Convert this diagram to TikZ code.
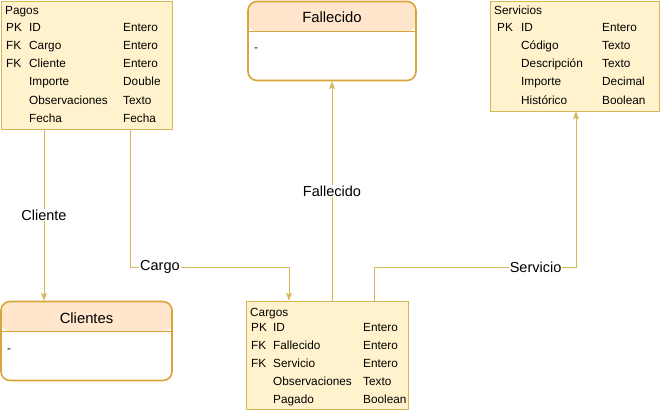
\documentclass[tikz,border=0pt]{standalone}
\usepackage{fontspec}
\setmainfont{Liberation Sans}
\usetikzlibrary{arrows.meta}
\definecolor{tablefill}{HTML}{FFF2CC}
\definecolor{tablestroke}{HTML}{D6B656}
\definecolor{headfill}{HTML}{FFE6CC}
\definecolor{headstroke}{HTML}{D9A43A}
\definecolor{linkcolor}{HTML}{D6B656}
\begin{document}
\begin{tikzpicture}[x=1pt,y=-1pt]
	% Define styles for the boxes, texts and links
	\tikzstyle{table} = [draw=tablestroke, fill=tablefill, line width=0.8pt, inner sep=0pt]
	\tikzstyle{entity} = [draw=headstroke, fill=white, line width=1.6pt, rounded corners=9pt, inner sep=0pt,
		minimum width=168pt, minimum height=79pt,
		path picture={\fill[headfill] (path picture bounding box.north west) rectangle ([yshift=-30pt]path picture bounding box.north east);
			\draw[headstroke, line width=1.6pt] ([yshift=-30pt]path picture bounding box.north west) -- ([yshift=-30pt]path picture bounding box.north east);}]
	\tikzstyle{cell} = [anchor=west, inner sep=0pt, text height=8.5pt, text depth=2.5pt, yshift=-2pt, font=\fontsize{11.8}{13}\selectfont]
	\tikzstyle{title} = [inner sep=0pt, font=\fontsize{14.8}{16}\selectfont]
	\tikzstyle{edge} = [draw=linkcolor, line width=0.8pt, -{Stealth[length=8pt, width=6pt, inset=2pt]}]
	\tikzstyle{edgelabel} = [fill=white, inner sep=1pt, font=\fontsize{14.5}{16}\selectfont]

	\useasboundingbox (0,0) rectangle (662,412);

	% Tables
	\node[table, minimum width=171pt, minimum height=128pt] (pagos) at (86.5,65) {};
	\node[table, minimum width=169pt, minimum height=110pt] (servicios) at (574.5,56) {};
	\node[table, minimum width=162pt, minimum height=108pt] (cargos) at (327,355) {};

	% Entities
	\node[entity] (fallecido) at (332,41) {};
	\node[entity, minimum width=171pt] (clientes) at (86.5,341) {};

	% Table texts
	\node[cell] (pagostitle) at (5,10) {Pagos};
	\foreach \pk/\name/\type [count=\i] in {PK/ID/Entero, FK/Cargo/Entero, FK/Cliente/Entero,
		/Importe/Double, /Observaciones/Texto, /Fecha/Fecha} {
		\node[cell] (pagospk\i) at (6,{27+18*(\i-1)}) {\pk};
		\node[cell] (pagosname\i) at (29,{27+18*(\i-1)}) {\name};
		\node[cell] (pagostype\i) at (123,{27+18*(\i-1)}) {\type};
	}

	\node[cell] (serviciostitle) at (494,10) {Servicios};
	\foreach \pk/\name/\type [count=\i] in {PK/ID/Entero, /Código/Texto, /Descripción/Texto,
		/Importe/Decimal, /Histórico/Boolean} {
		\node[cell] (serviciospk\i) at (497,{27+18*(\i-1)}) {\pk};
		\node[cell] (serviciosname\i) at (521,{27+18*(\i-1)}) {\name};
		\node[cell] (serviciostype\i) at (602,{27+18*(\i-1)}) {\type};
	}

	\node[cell] (cargostitle) at (250,311) {Cargos};
	\foreach \pk/\name/\type [count=\i] in {PK/ID/Entero, FK/Fallecido/Entero, FK/Servicio/Entero,
		/Observaciones/Texto, /Pagado/Boolean} {
		\node[cell] (cargospk\i) at (251,{326+18*(\i-1)}) {\pk};
		\node[cell] (cargosname\i) at (273,{326+18*(\i-1)}) {\name};
		\node[cell] (cargostype\i) at (363,{326+18*(\i-1)}) {\type};
	}

	% Entity texts
	\node[title] (fallecidotitle) at (332,17) {Fallecido};
	\node[cell] (fallecidobody) at (254,47) {-};
	\node[title] (clientestitle) at (86.5,318) {Clientes};
	\node[cell] (clientesbody) at (7,347) {-};

	% Links
	\draw[edge] (pagos.south -| 44,0) -- (clientes.north -| 44,0)
		node[edgelabel, midway] (clientelabel) {Cliente};
	\draw[edge] (pagos.south -| 130,0) -- (130,267) -| (cargos.north -| 289,0)
		node[edgelabel, pos=0.094] (cargolabel) {Cargo};
	\draw[edge] (cargos.north -| 332,0) -- (fallecido.south)
		node[edgelabel, midway] (fallecidolabel) {Fallecido};
	\draw[edge] (cargos.north -| 374,0) -- (374,267) -| (servicios.south -| 576,0)
		node[edgelabel, pos=0.4] (serviciolabel) {Servicio};

\end{tikzpicture}
\end{document}
